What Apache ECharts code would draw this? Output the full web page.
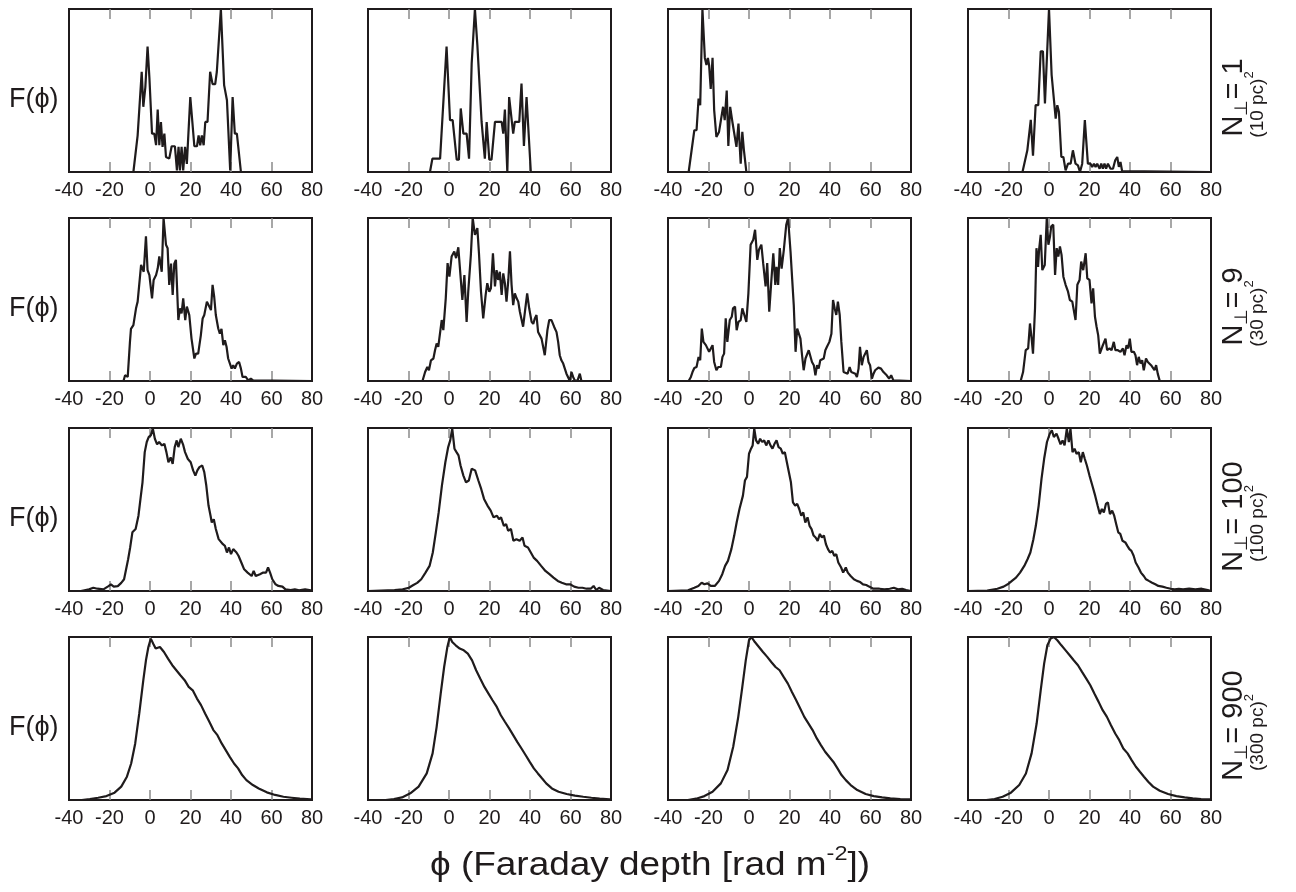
<!DOCTYPE html>
<html>
<head>
<meta charset="utf-8">
<script src="https://cdn.jsdelivr.net/npm/echarts@6/dist/echarts.min.js"></script>
<style>
  html, body { margin: 0; padding: 0; background: #fff; }
  #chart { width: 1296px; height: 892px; }
</style>
</head>
<body>
<div id="chart"></div>
<script>
// Faraday depth axis
const phiMin = -40, phiMax = 80, phiStep = 20;
const innerTicks = [-20, 0, 20, 40, 60];

// Row captions: number of lines of sight and beam area
const rowCount = ['1', '9', '100', '900'];
const rowArea = ['(10 pc)', '(30 pc)', '(100 pc)', '(300 pc)'];

// Faraday spectra F(phi), normalised to the peak, as [phi, F] pairs
// N = 1
const f_n1_a = [[-40,0],[-8.2,0],[-6.1,0.225],[-5.3,0.225],[-4.1,0.615],[-3.3,0.40],[-2.3,0.52],[-1.2,0.77],[-0.3,0.58],[1.0,0.235],[2.1,0.235],[3.0,0.165],[3.8,0.383],[4.6,0.165],[5.4,0.307],[6.2,0.154],[7.1,0.235],[7.9,0.092],[9.5,0.082],[10.7,0.158],[12.3,0.158],[13.3,0.01],[14.1,0.154],[14.8,0.01],[15.6,0.154],[16.4,0.01],[17.3,0.154],[18.2,0.05],[19.9,0.46],[21.9,0.158],[23.2,0.158],[24.0,0.225],[24.8,0.164],[25.6,0.225],[26.5,0.164],[27.3,0.307],[28.4,0.307],[29.7,0.615],[30.9,0.539],[32.2,0.539],[33.0,0.615],[33.9,0.625],[35.0,1.0],[36.6,0.533],[38.0,0.44],[39.6,0.01],[40.8,0.46],[41.9,0.235],[42.9,0.235],[44.9,0],[80,0]];
const f_n1_b = [[-40,0],[-9.4,0],[-8.2,0.082],[-4.4,0.082],[-1.2,0.77],[0.5,0.318],[1.8,0.318],[3.8,0.076],[4.9,0.076],[5.8,0.39],[7.1,0.235],[8.7,0.235],[9.9,0.082],[11.2,0.666],[12.8,1.0],[14.0,0.78],[14.8,0.78],[16.1,0.307],[17.7,0.082],[18.6,0.307],[19.9,0.076],[21.0,0.076],[22.7,0.307],[26.0,0.307],[26.8,0.235],[27.6,0.383],[28.8,0],[29.7,0.46],[31.7,0.235],[32.5,0.307],[34.7,0.307],[35.8,0.543],[37.0,0.16],[38.3,0.46],[39.1,0.46],[40.4,0],[80,0]];
const f_n1_c = [[-40,0],[-29.8,0],[-27.0,0.256],[-25.9,0.256],[-24.9,0.45],[-24.1,0.41],[-23.0,1.0],[-21.8,0.70],[-21.0,0.656],[-20.3,0.70],[-19.7,0.656],[-18.9,0.51],[-18.0,0.70],[-17.2,0.38],[-16.1,0.215],[-14.8,0.246],[-13.9,0.256],[-12.8,0.40],[-12.0,0.318],[-11.0,0.50],[-10.2,0.16],[-9.3,0.40],[-8.2,0.307],[-7.4,0.307],[-6.2,0.154],[-5.2,0.297],[-4.1,0.051],[-3.3,0.246],[-2.5,0.133],[-1.3,0],[80,0]];
const f_n1_d = [[-40,0],[-13.1,0],[-10.7,0.133],[-9.0,0.32],[-7.9,0.10],[-6.6,0.41],[-5.3,0.41],[-4.1,0.74],[-3.0,0.74],[-2.0,0.42],[0,1.0],[1.3,0.595],[2.1,0.595],[3.3,0.328],[4.1,0.41],[4.9,0.37],[6.1,0.092],[7.1,0.092],[8.2,0.01],[9.4,0.051],[10.7,0.051],[11.8,0.133],[13.1,0.051],[14.3,0.041],[15.3,0],[16.4,0.051],[17.7,0.318],[19.2,0.051],[20.5,0.051],[21.3,0.031],[22.2,0.051],[23.0,0.031],[23.8,0.051],[25.0,0.02],[25.8,0.051],[26.6,0.02],[27.4,0.051],[28.2,0.02],[29.1,0.051],[30.4,0.02],[31.6,0.02],[32.7,0.072],[33.7,0.092],[34.5,0.031],[35.3,0.061],[36.1,0.006],[36.9,0],[80,0]];

// N = 9
const f_n9_a = [[-40,0],[-13.1,0],[-12.3,0.035],[-11.0,0.025],[-9.9,0.24],[-9.4,0.32],[-8.2,0.343],[-6.9,0.446],[-6.1,0.487],[-5.3,0.487],[-4.4,0.712],[-3.6,0.70],[-3.1,0.67],[-2.0,0.887],[-1.2,0.68],[-0.3,0.65],[1.0,0.507],[1.8,0.62],[3.0,0.65],[3.8,0.69],[4.6,0.764],[5.8,0.67],[6.7,1.0],[7.9,0.836],[8.7,0.815],[9.5,0.59],[10.4,0.72],[11.2,0.528],[12.0,0.72],[12.8,0.743],[13.3,0.59],[14.0,0.374],[14.8,0.446],[15.6,0.415],[16.4,0.507],[17.4,0.374],[18.2,0.456],[19.4,0.405],[20.5,0.26],[21.9,0.138],[22.7,0.168],[23.8,0.168],[25.1,0.28],[26.0,0.384],[26.8,0.405],[28.1,0.487],[28.9,0.476],[30.1,0.435],[30.9,0.59],[31.7,0.517],[32.5,0.405],[33.7,0.322],[34.5,0.29],[35.3,0.32],[36.2,0.22],[37.0,0.25],[37.8,0.21],[38.6,0.138],[39.4,0.127],[40.3,0.076],[41.1,0.097],[41.9,0.076],[42.9,0.107],[44.0,0.117],[44.9,0.076],[45.7,0.025],[47.3,0.025],[48.5,0.004],[49.8,0.014],[50.9,0.004],[51.8,0],[80,0]];
const f_n9_b = [[-40,0],[-13.1,0],[-11.8,0.055],[-10.7,0.086],[-9.9,0.066],[-8.9,0.127],[-7.7,0.138],[-6.9,0.189],[-6.1,0.23],[-5.3,0.21],[-4.4,0.22],[-3.6,0.374],[-2.8,0.312],[-1.6,0.507],[-0.7,0.723],[0.2,0.64],[1.3,0.764],[2.6,0.795],[3.5,0.754],[4.6,0.82],[5.4,0.825],[6.6,0.497],[7.6,0.65],[8.7,0.363],[9.5,0.548],[10.8,0.774],[11.7,1.0],[12.8,0.897],[14.0,0.938],[14.8,0.784],[15.8,0.548],[16.9,0.384],[18.1,0.528],[18.9,0.60],[19.9,0.548],[20.7,0.569],[21.7,0.784],[22.7,0.58],[23.5,0.68],[24.3,0.62],[25.1,0.67],[26.0,0.528],[26.8,0.66],[27.6,0.60],[28.4,0.487],[29.3,0.62],[30.1,0.795],[30.9,0.59],[31.7,0.466],[32.5,0.538],[33.4,0.507],[34.2,0.487],[35.0,0.425],[35.8,0.415],[36.6,0.333],[37.5,0.425],[38.6,0.538],[39.6,0.446],[40.8,0.363],[41.6,0.35],[42.4,0.384],[43.2,0.405],[44.0,0.30],[44.9,0.29],[45.7,0.26],[46.5,0.26],[47.3,0.158],[47.8,0.148],[48.6,0.312],[49.5,0.374],[50.6,0.374],[51.9,0.333],[53.1,0.30],[53.9,0.24],[54.7,0.158],[55.5,0.127],[56.4,0.107],[57.2,0.076],[58.0,0.045],[58.8,0.035],[59.7,0],[60.5,0.055],[61.3,0.025],[62.1,0.004],[63.4,0],[64.6,0.045],[65.4,0],[80,0]];
const f_n9_c = [[-40,0],[-29.8,0],[-28.7,0.025],[-27.9,0.055],[-27.0,0.08],[-25.9,0.086],[-24.9,0.148],[-24.1,0.127],[-23.3,0.322],[-22.5,0.24],[-21.3,0.22],[-20.5,0.23],[-19.7,0.179],[-18.9,0.168],[-18.0,0.22],[-17.2,0.117],[-16.1,0.066],[-15.2,0.086],[-13.9,0.086],[-13.1,0.148],[-12.3,0.168],[-11.5,0.384],[-10.7,0.24],[-9.5,0.374],[-8.5,0.394],[-7.9,0.446],[-6.9,0.456],[-6.1,0.312],[-5.2,0.363],[-4.1,0.374],[-3.3,0.446],[-2.5,0.435],[-1.3,0.363],[-0.3,0.538],[0.8,0.836],[2.1,0.867],[3.0,0.928],[4.1,0.743],[4.9,0.805],[6.1,0.836],[7.0,0.723],[8.2,0.58],[9.0,0.723],[10.0,0.425],[11.0,0.61],[12.0,0.784],[13.0,0.59],[13.6,0.70],[14.4,0.59],[15.2,0.815],[16.1,0.69],[17.2,0.805],[18.4,0.959],[19.3,1.0],[20.5,0.795],[21.3,0.63],[22.1,0.466],[23.0,0.179],[23.8,0.322],[24.6,0.312],[25.4,0.26],[26.2,0.158],[27.0,0.066],[27.9,0.138],[28.7,0.138],[29.5,0.189],[30.3,0.179],[31.1,0.117],[32.0,0.097],[32.8,0.035],[33.6,0.097],[34.4,0.076],[35.2,0.127],[36.1,0.117],[36.9,0.138],[37.7,0.189],[38.5,0.21],[39.7,0.24],[40.7,0.29],[41.5,0.497],[42.3,0.446],[43.1,0.405],[43.9,0.487],[44.8,0.405],[45.6,0.24],[46.7,0.055],[47.5,0.045],[48.7,0.045],[49.7,0.086],[50.5,0.055],[51.3,0.045],[52.5,0.045],[53.3,0.025],[54.1,0.076],[54.8,0.21],[55.7,0.097],[56.6,0.148],[57.4,0.158],[58.2,0.189],[59.0,0.117],[59.8,0.097],[60.7,0.014],[61.5,0.045],[62.3,0.066],[63.9,0.082],[65.2,0.076],[66.4,0.055],[67.2,0.055],[68.0,0.035],[69.2,0.014],[70.2,0.035],[71.3,0.004],[72.1,0],[80,0]];
const f_n9_d = [[-40,0],[-14.0,0],[-12.8,0.055],[-11.5,0.189],[-10.3,0.2],[-9.4,0.353],[-8.5,0.25],[-7.9,0.168],[-6.9,0.446],[-6.2,0.815],[-5.4,0.70],[-4.9,0.805],[-4.1,0.897],[-3.3,0.68],[-2.1,0.712],[-1.1,1.0],[-0.3,0.836],[0.5,0.887],[1.1,0.949],[2.1,0.959],[3.0,0.65],[3.8,0.815],[4.6,0.764],[5.4,0.825],[6.2,0.774],[7.1,0.64],[8.2,0.59],[9.4,0.548],[10.3,0.497],[11.5,0.487],[12.3,0.476],[13.1,0.374],[14.0,0.59],[15.1,0.62],[15.9,0.733],[16.9,0.68],[18.1,0.784],[18.9,0.63],[20.0,0.62],[21.0,0.476],[21.8,0.569],[22.7,0.394],[23.5,0.333],[24.3,0.28],[25.1,0.168],[26.3,0.21],[27.1,0.22],[27.9,0.26],[28.7,0.189],[29.9,0.2],[30.9,0.189],[32.0,0.24],[32.8,0.189],[34.0,0.189],[35.3,0.179],[36.5,0.2],[37.3,0.158],[38.3,0.22],[39.1,0.2],[39.9,0.26],[40.7,0.179],[41.9,0.179],[42.7,0.158],[43.5,0.097],[44.3,0.148],[45.2,0.107],[46.0,0.127],[46.8,0.066],[47.9,0.138],[48.8,0.117],[49.6,0.127],[50.4,0.097],[51.2,0.107],[52.1,0.066],[52.9,0.097],[53.7,0.045],[54.7,0],[80,0]];

// N = 100
const f_n100_a = [[-40,0],[-34.1,0],[-30.1,0.01],[-28.0,0.02],[-26.0,0.014],[-23.0,0.01],[-20.5,0.03],[-19.3,0.04],[-17.9,0.027],[-15.9,0.03],[-14.2,0.05],[-12.8,0.072],[-11.8,0.133],[-10.8,0.195],[-9.8,0.267],[-8.7,0.36],[-7.1,0.38],[-5.7,0.462],[-4.7,0.565],[-3.7,0.667],[-2.6,0.852],[-1.6,0.914],[-0.6,0.945],[0.4,0.955],[1.4,0.996],[2.4,0.934],[3.5,0.9],[4.5,0.914],[5.9,0.893],[7.1,0.903],[8.1,0.852],[9.1,0.79],[10.2,0.82],[11.2,0.78],[12.2,0.883],[13.2,0.924],[14.0,0.883],[15.2,0.934],[16.3,0.9],[17.3,0.852],[18.7,0.81],[20.1,0.79],[21.3,0.74],[22.4,0.708],[23.4,0.74],[24.4,0.76],[25.8,0.77],[26.8,0.729],[27.8,0.647],[28.9,0.524],[29.9,0.462],[30.5,0.42],[31.5,0.44],[32.5,0.38],[33.9,0.318],[36.0,0.287],[37.0,0.277],[38.0,0.236],[39.0,0.267],[40.0,0.226],[41.1,0.257],[42.7,0.236],[43.7,0.216],[45.1,0.175],[46.5,0.133],[48.2,0.113],[50.2,0.092],[51.2,0.123],[52.2,0.092],[54.3,0.103],[55.9,0.113],[57.3,0.113],[58.3,0.144],[59.3,0.113],[60.4,0.072],[62.0,0.041],[63.4,0.031],[65.4,0.027],[66.9,0.01],[69.5,0.006],[71.5,0.01],[73.6,0.004],[76.6,0.01],[80,0.002]];
const f_n100_b = [[-40,0],[-26.9,0.006],[-22.9,0.01],[-19.8,0.02],[-17.8,0.035],[-15.7,0.05],[-13.7,0.072],[-11.6,0.113],[-9.6,0.154],[-8.0,0.236],[-6.5,0.36],[-5.1,0.482],[-3.5,0.647],[-1.8,0.79],[-0.4,0.883],[0.6,0.924],[1.6,0.996],[2.7,0.873],[3.7,0.852],[4.7,0.832],[5.7,0.77],[7.1,0.708],[8.4,0.667],[9.8,0.678],[11.2,0.75],[12.9,0.74],[14.5,0.678],[15.9,0.626],[17.3,0.565],[19.0,0.524],[20.6,0.493],[22.0,0.452],[23.7,0.462],[24.7,0.44],[25.7,0.452],[27.1,0.40],[28.2,0.41],[29.2,0.37],[30.6,0.38],[31.8,0.308],[33.3,0.318],[34.9,0.308],[36.3,0.328],[37.3,0.277],[39.0,0.267],[40.4,0.236],[41.8,0.205],[43.5,0.185],[45.5,0.154],[47.6,0.123],[49.6,0.103],[51.6,0.082],[53.7,0.062],[55.7,0.051],[57.8,0.041],[59.8,0.041],[61.8,0.027],[63.9,0.02],[65.9,0.02],[67.9,0.014],[70.0,0.014],[71.4,0.031],[72.7,0.006],[74.1,0.02],[76.1,0.006],[80,0]];
const f_n100_c = [[-40,0],[-30.1,0.004],[-27.0,0.02],[-25.0,0.031],[-23.4,0.051],[-22.0,0.041],[-20.5,0.047],[-18.9,0.031],[-16.9,0.031],[-14.8,0.062],[-13.2,0.103],[-11.8,0.154],[-10.4,0.185],[-8.7,0.257],[-7.3,0.34],[-6.1,0.42],[-4.7,0.503],[-3.0,0.585],[-2.0,0.678],[-1.0,0.7],[0,0.842],[1.0,0.873],[1.8,0.893],[2.6,0.996],[3.5,0.924],[4.5,0.903],[5.5,0.934],[6.5,0.914],[7.5,0.924],[8.5,0.893],[9.6,0.924],[10.6,0.893],[11.6,0.873],[12.6,0.903],[13.6,0.924],[14.6,0.883],[15.7,0.873],[16.7,0.842],[17.7,0.852],[18.7,0.79],[19.7,0.729],[20.7,0.667],[21.7,0.544],[22.8,0.524],[23.8,0.534],[24.8,0.503],[25.8,0.462],[26.8,0.482],[27.8,0.42],[28.9,0.452],[29.9,0.40],[30.9,0.38],[31.9,0.34],[32.9,0.328],[33.9,0.308],[35.0,0.35],[36.0,0.328],[37.0,0.34],[38.0,0.287],[39.0,0.257],[40.0,0.236],[41.1,0.246],[42.1,0.216],[43.1,0.226],[44.1,0.175],[45.5,0.144],[46.5,0.113],[47.8,0.144],[48.8,0.113],[50.2,0.092],[51.8,0.072],[53.3,0.062],[54.9,0.055],[56.3,0.041],[57.9,0.037],[59.3,0.027],[61.4,0.014],[64.4,0.014],[66.9,0.01],[69.5,0.014],[71.5,0.02],[73.6,0.01],[75.6,0.014],[77.6,0.006],[80,0]];
const f_n100_d = [[-40,0],[-30.5,0.002],[-25.5,0.014],[-22.4,0.027],[-20.4,0.041],[-18.3,0.062],[-16.3,0.082],[-14.3,0.113],[-12.2,0.154],[-10.6,0.195],[-9.2,0.236],[-7.7,0.318],[-6.5,0.40],[-5.1,0.524],[-3.7,0.688],[-2.4,0.811],[-1.0,0.914],[0.4,0.965],[1.4,0.986],[2.4,0.945],[3.7,0.965],[4.7,0.934],[5.7,0.9],[6.7,0.924],[7.7,0.893],[8.8,0.996],[9.8,0.914],[10.6,0.996],[11.6,0.852],[12.6,0.873],[13.6,0.842],[14.7,0.852],[15.7,0.79],[16.7,0.852],[17.7,0.81],[18.7,0.77],[20.0,0.708],[21.4,0.647],[22.8,0.585],[24.0,0.524],[25.1,0.472],[26.1,0.503],[27.1,0.482],[28.1,0.534],[29.1,0.544],[30.1,0.472],[31.2,0.493],[32.2,0.462],[33.2,0.41],[34.2,0.36],[35.2,0.35],[36.3,0.308],[37.7,0.298],[38.7,0.277],[39.7,0.257],[40.7,0.246],[41.8,0.216],[42.8,0.175],[44.2,0.144],[45.4,0.113],[46.8,0.092],[47.9,0.072],[49.3,0.062],[50.9,0.051],[52.5,0.041],[54.0,0.031],[56.0,0.027],[58.0,0.02],[60.1,0.014],[62.1,0.01],[64.1,0.014],[66.2,0.01],[69.2,0.014],[72.3,0.01],[75.4,0.014],[78.4,0.006],[80,0]];

// N = 900
const f_n900_a = [[-40,0],[-33.7,0],[-29.7,0.006],[-25.6,0.014],[-21.5,0.024],[-17.5,0.045],[-14.2,0.082],[-11.4,0.143],[-9.3,0.224],[-7.3,0.347],[-5.3,0.531],[-3.3,0.735],[-2.0,0.857],[-0.8,0.939],[0.4,0.99],[1.6,0.959],[2.8,0.929],[4.9,0.939],[6.9,0.908],[8.9,0.867],[11.0,0.827],[13.0,0.796],[15.0,0.765],[17.1,0.735],[19.1,0.694],[21.1,0.673],[23.2,0.622],[25.2,0.582],[27.2,0.531],[29.3,0.48],[31.3,0.429],[33.3,0.398],[35.4,0.347],[37.4,0.306],[39.4,0.265],[41.5,0.224],[43.5,0.194],[45.5,0.153],[47.6,0.122],[50.8,0.092],[53.7,0.071],[57.7,0.047],[61.8,0.031],[65.9,0.02],[69.9,0.014],[74.0,0.008],[79.3,0.004],[80,0.004]];
const f_n900_b = [[-40,0],[-31.3,0],[-27.2,0.006],[-23.2,0.016],[-19.1,0.041],[-15.0,0.082],[-11.0,0.163],[-8.1,0.286],[-6.1,0.449],[-4.1,0.653],[-2.4,0.816],[-0.8,0.939],[0.4,1.0],[1.6,0.969],[3.3,0.949],[5.3,0.929],[7.3,0.918],[9.3,0.898],[11.4,0.857],[13.4,0.796],[15.4,0.745],[17.5,0.694],[19.5,0.653],[21.5,0.612],[23.6,0.571],[25.6,0.52],[27.6,0.48],[29.7,0.439],[31.7,0.398],[33.7,0.357],[35.8,0.316],[37.8,0.276],[39.8,0.235],[41.9,0.194],[43.9,0.163],[45.9,0.133],[48.0,0.102],[50.8,0.071],[54.1,0.051],[58.1,0.037],[62.2,0.027],[66.3,0.02],[70.3,0.014],[74.4,0.008],[79.3,0.004],[80,0.004]];
const f_n900_c = [[-40,0],[-30.2,0],[-26.1,0.008],[-22.0,0.024],[-18.0,0.051],[-13.9,0.102],[-10.6,0.184],[-7.8,0.327],[-5.3,0.51],[-3.3,0.694],[-1.6,0.857],[0,0.98],[1.2,1.0],[2.9,0.969],[4.9,0.939],[6.9,0.908],[9.0,0.878],[11.0,0.847],[13.1,0.816],[15.1,0.796],[17.1,0.755],[19.2,0.714],[21.2,0.663],[23.3,0.612],[25.3,0.561],[27.3,0.51],[29.4,0.469],[31.4,0.429],[33.5,0.378],[35.5,0.337],[37.6,0.296],[39.6,0.265],[41.6,0.235],[43.7,0.194],[45.7,0.153],[47.8,0.122],[50.2,0.092],[53.5,0.061],[57.6,0.037],[61.6,0.024],[65.7,0.016],[69.8,0.01],[74.7,0.006],[79.6,0.004],[80,0.004]];
const f_n900_d = [[-40,0],[-31.0,0],[-26.9,0.006],[-22.9,0.02],[-18.8,0.045],[-14.7,0.092],[-11.4,0.163],[-8.6,0.286],[-6.1,0.469],[-4.1,0.673],[-2.4,0.837],[-0.8,0.949],[0.8,0.99],[2.4,1.0],[4.1,0.98],[6.1,0.949],[8.2,0.918],[10.2,0.888],[12.2,0.857],[14.3,0.827],[16.3,0.786],[18.4,0.745],[20.4,0.704],[22.4,0.653],[24.5,0.602],[26.5,0.551],[28.6,0.51],[30.6,0.459],[32.7,0.408],[34.7,0.367],[36.7,0.316],[38.8,0.286],[40.8,0.245],[42.9,0.204],[44.9,0.173],[46.9,0.143],[49.0,0.112],[51.4,0.082],[54.7,0.057],[58.8,0.037],[62.9,0.024],[67.0,0.016],[71.0,0.01],[75.1,0.006],[79.6,0.004],[80,0.004]];

const panels = [
  [f_n1_a, f_n1_b, f_n1_c, f_n1_d],
  [f_n9_a, f_n9_b, f_n9_c, f_n9_d],
  [f_n100_a, f_n100_b, f_n100_c, f_n100_d],
  [f_n900_a, f_n900_b, f_n900_c, f_n900_d]
];

// Panel geometry (pixels)
const colLeft = [69, 368, 668, 968];
const rowTop = [9, 218, 428, 637];
const panelW = 243, panelH = 163;

const INK = '#1f1b1c';
const TICK = '#8a8a8a';
const FONT = '"Liberation Sans", Arial, Helvetica, sans-serif';

const grid = [], xAxis = [], yAxis = [], series = [];
panels.forEach((row, r) => {
  row.forEach((data, c) => {
    const g = grid.length;
    grid.push({
      left: colLeft[c], top: rowTop[r], width: panelW, height: panelH,
      show: true, borderColor: INK, borderWidth: 2, backgroundColor: 'transparent'
    });
    const base = {
      gridIndex: g, type: 'value', min: phiMin, max: phiMax, interval: phiStep,
      axisLine: { show: false }, splitLine: { show: false },
      axisTick: { show: true, inside: true, length: 10, customValues: innerTicks,
                  lineStyle: { color: TICK, width: 1.5 } }
    };
    xAxis.push(Object.assign({}, base, {
      position: 'bottom',
      axisLabel: { show: true, fontSize: 20, fontFamily: FONT, color: INK, margin: 8,
                   showMinLabel: true, showMaxLabel: true }
    }));
    xAxis.push(Object.assign({}, base, {
      position: 'top', axisLabel: { show: false }
    }));
    yAxis.push({ gridIndex: g, type: 'value', min: 0, max: 1, show: false });
    series.push({
      type: 'line', xAxisIndex: 2 * g, yAxisIndex: g, data: data,
      symbol: 'none', clip: true, animation: false,
      lineStyle: { color: INK, width: 2.2 }
    });
  });
});

// text measuring for hand-composed labels with sub/superscripts
const mctx = document.createElement('canvas').getContext('2d');
function textWidth(t, size) { mctx.font = size + 'px ' + FONT; return mctx.measureText(t).width; }
function compose(pieces) {
  const total = pieces.reduce((s, p) => s + textWidth(p[0], p[1]), 0);
  let x = -total / 2;
  return pieces.map(p => {
    const el = { type: 'text', x: x, y: p[2],
      style: { text: p[0], fontSize: p[1], fontFamily: FONT, fill: INK, align: 'left', verticalAlign: 'middle' } };
    x += textWidth(p[0], p[1]);
    return el;
  });
}

const graphic = [];
rowTop.forEach((top, r) => {
  const cy = top + panelH / 2;
  graphic.push({ type: 'text', x: 9, y: cy + 9,
    style: { text: 'F(ϕ)', fontSize: 27, fontFamily: FONT, fill: INK, align: 'left', verticalAlign: 'middle' } });
  graphic.push({ type: 'group', x: 1234, y: cy + 7, rotation: Math.PI / 2,
    children: compose([['N', 29, 0], ['⊥', 18, 8], ['= ' + rowCount[r], 29, 0]]) });
  graphic.push({ type: 'group', x: 1258, y: cy + 14, rotation: Math.PI / 2,
    children: compose([[rowArea[r], 19, 0], ['2', 13, -9]]) });
});
graphic.push({ type: 'group', x: 650, y: 866, scaleX: 1.12,
  children: compose([['ϕ (Faraday depth [rad m', 33, 0], ['-2', 21, -12], ['])', 33, 0]]) });

const chart = echarts.init(document.getElementById('chart'), null, { renderer: 'canvas' });
chart.setOption({ animation: false, grid, xAxis, yAxis, series, graphic });
</script>
</body>
</html>
